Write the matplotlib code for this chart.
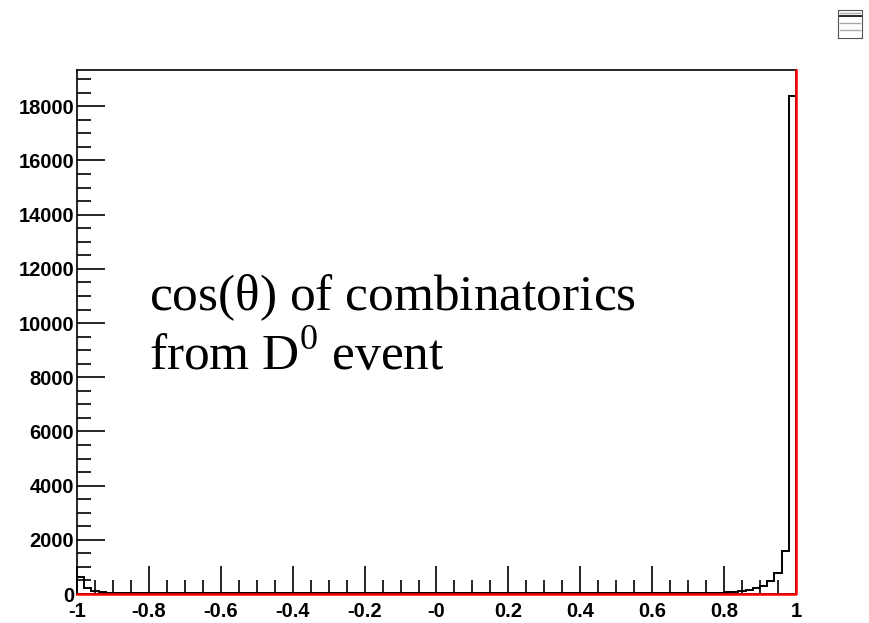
import numpy as np
import matplotlib.pyplot as plt
from matplotlib.ticker import MultipleLocator, FixedLocator

# histogram of cos(theta), 100 bins from -1 to 1
edges = np.linspace(-1, 1, 101)
left_counts = [630, 220, 110, 60, 45, 40, 35, 35, 30, 30]
right_counts = [25, 30, 35, 40, 50, 60, 75, 110, 150, 220,
                295, 480, 775, 1590, 18380]
counts = np.array(left_counts + [25] * (100 - len(left_counts) - len(right_counts))
                  + right_counts)

# red reference curve: flat at zero, then up the right edge to the frame top
y_top = 19340
red_x = [-1, 1, 1]
red_y = [0, 0, y_top]

xticks = [-1, -0.8, -0.6, -0.4, -0.2, 0, 0.2, 0.4, 0.6, 0.8, 1]
xlabels = ["-1", "-0.8", "-0.6", "-0.4", "-0.2", "-0", "0.2", "0.4", "0.6", "0.8", "1"]
yticks = [0, 2000, 4000, 6000, 8000, 10000, 12000, 14000, 16000, 18000]

fig = plt.figure(figsize=(8.7, 6.23), dpi=100)
ax = fig.add_axes([77/870, 1 - 594/623, (796 - 77)/870, (594 - 70)/623])

ax.stairs(counts, edges, color="black", linewidth=1.4, zorder=3)
ax.plot(red_x, red_y, color="red", linewidth=1.8, zorder=4, clip_on=False)

ax.set_xlim(-1, 1)
ax.set_ylim(0, y_top)

ax.xaxis.set_major_locator(FixedLocator(xticks))
ax.set_xticklabels(xlabels)
ax.xaxis.set_minor_locator(MultipleLocator(0.05))
ax.yaxis.set_major_locator(FixedLocator(yticks))
ax.set_yticklabels([str(v) for v in yticks])
ax.yaxis.set_minor_locator(MultipleLocator(500))

ax.tick_params(which="major", direction="in", length=20, width=1.2,
               top=False, right=False)
ax.tick_params(axis="y", which="major", pad=2)
ax.tick_params(axis="x", which="major", pad=6)
ax.tick_params(which="minor", direction="in", length=10, width=1.2,
               top=False, right=False)
for lab in ax.get_xticklabels() + ax.get_yticklabels():
    lab.set_fontfamily("Liberation Sans")
    lab.set_fontweight("bold")
    lab.set_fontsize(14.5)

for sp in ax.spines.values():
    sp.set_linewidth(1.2)

ax.text(0.1, 0.542, r"cos($\mathregular{\theta}$) of combinatorics",
        transform=ax.transAxes, fontfamily="Liberation Serif", fontsize=37,
        va="baseline")
ax.text(0.1, 0.428, r"from D$^{\mathregular{0}}$ event",
        transform=ax.transAxes, fontfamily="Liberation Serif", fontsize=37,
        va="baseline")

# tiny stats box in the corner
box = fig.add_axes([838/870, 1 - 38/623, 24/870, 28/623])
box.set_xticks([])
box.set_yticks([])
for sp in box.spines.values():
    sp.set_linewidth(0.8)
    sp.set_color("#555555")
box.axhline(0.78, color="black", linewidth=1.2)
for yy in [0.9, 0.55, 0.3]:
    box.plot([0.1, 0.9], [yy, yy], color="#aaaaaa", linewidth=1)
box.set_xlim(0, 1)
box.set_ylim(0, 1)

fig.savefig("out.png", dpi=100)
